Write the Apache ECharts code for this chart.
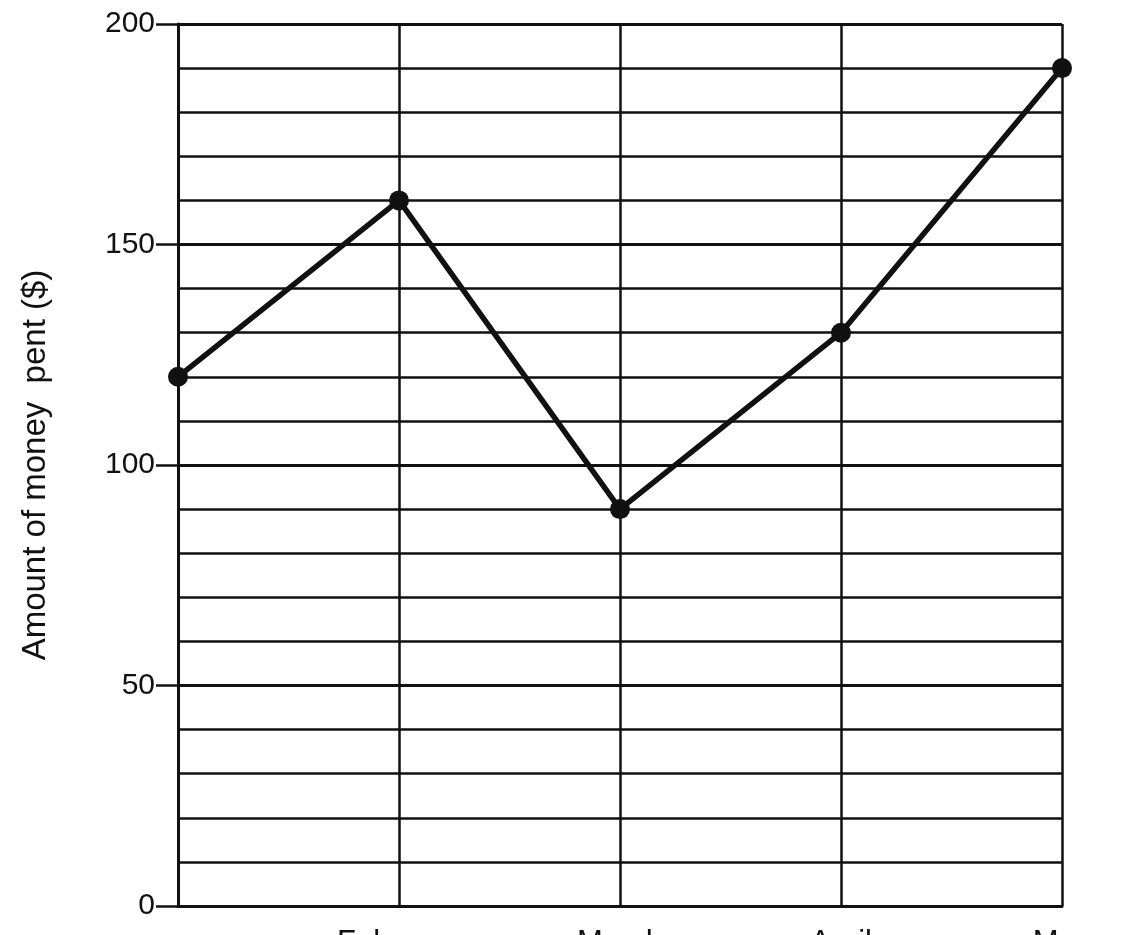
<!DOCTYPE html>
<html lang="en">
<head>
    <meta charset="UTF-8">
    <title>Amount of money spent</title>
    <script src="https://cdn.jsdelivr.net/npm/echarts@6/dist/echarts.min.js"></script>
    <style>
        html, body {
            margin: 0;
            height: 100%;
            background: #fff;
        }
    </style>
</head>
<body>
<div id="main" style="width: 1144px;height: 935px"></div>
<script>
    // data
    var months = ['January', 'February', 'March', 'April', 'May'];
    var spent = [120, 160, 90, 130, 190];
    var yTicks = [0, 50, 100, 150, 200];

    var ink = '#111';
    var myChart = echarts.init(document.getElementById('main'));

    var option = {
        backgroundColor: '#fff',
        animation: false,
        textStyle: {fontFamily: 'Liberation Sans'},
        grid: {left: 178, right: 82, top: 24, bottom: 29, outerBoundsMode: 'none'},
        xAxis: {
            type: 'category',
            data: months,
            boundaryGap: false,
            axisLine: {lineStyle: {color: ink, width: 3}},
            axisTick: {show: false},
            axisLabel: {
                // first month label is not shown in the picture
                interval: function (index) {
                    return index > 0;
                },
                color: ink,
                fontSize: 31,
                margin: 22
            },
            splitLine: {show: true, lineStyle: {color: ink, width: 2.5, opacity: 1}}
        },
        yAxis: {
            type: 'value',
            min: yTicks[0],
            max: yTicks[yTicks.length - 1],
            interval: yTicks[1] - yTicks[0],
            name: 'Amount of money  pent ($)',
            nameLocation: 'middle',
            nameGap: 126,
            nameTextStyle: {color: ink, fontSize: 33},
            axisLine: {show: true, lineStyle: {color: ink, width: 3}},
            axisTick: {show: true, length: 22, lineStyle: {color: ink, width: 2.5}},
            axisLabel: {color: ink, fontSize: 30, margin: 23},
            splitLine: {show: true, lineStyle: {color: ink, width: 3}},
            minorTick: {show: false, splitNumber: 5},
            minorSplitLine: {show: true, lineStyle: {color: ink, width: 2.5}}
        },
        series: [{
            type: 'line',
            data: spent,
            symbol: 'circle',
            symbolSize: 20,
            itemStyle: {color: ink},
            lineStyle: {color: ink, width: 5.5}
        }]
    };

    myChart.setOption(option);
</script>
</body>
</html>
